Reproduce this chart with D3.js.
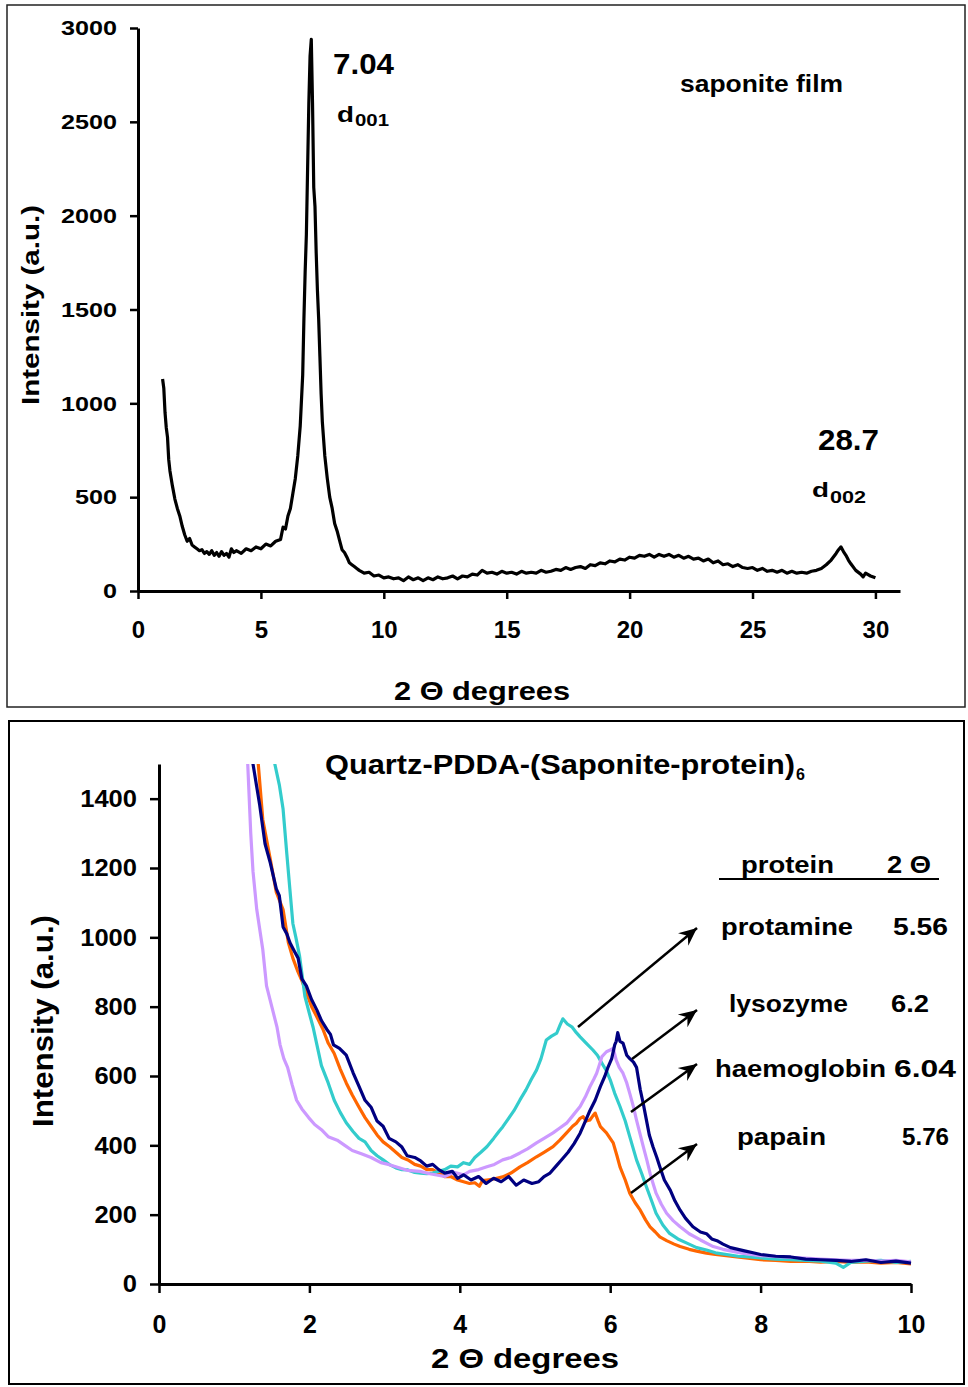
<!DOCTYPE html>
<html>
<head>
<meta charset="utf-8">
<script src="https://cdn.jsdelivr.net/npm/d3@7"></script>
<style>
  body { margin: 0; background: #fff; }
  svg text { font-family: "Liberation Sans", Arial, sans-serif; font-weight: bold; fill: #000; }
</style>
</head>
<body>
<svg id="chart" width="968" height="1387"></svg>
<script>
// ---------- data: saponite film (top panel) ----------
var saponiteFilm = [
  [1.00,1130],[1.05,1080],[1.10,950],[1.15,870],[1.20,820],[1.25,700],[1.30,640],[1.40,560],[1.50,490],
  [1.60,440],[1.70,400],[1.80,345],[1.90,300],[2.00,265],[2.10,280],[2.20,245],[2.30,235],[2.40,225],
  [2.50,215],[2.60,220],[2.70,200],[2.80,210],[2.90,195],[3.00,215],[3.10,190],[3.20,205],[3.30,185],
  [3.40,210],[3.50,190],[3.60,200],[3.70,180],[3.80,225],[3.90,205],[4.00,215],[4.20,200],[4.40,225],
  [4.60,215],[4.80,235],[5.00,225],[5.20,250],[5.40,240],[5.60,265],[5.80,275],[5.90,340],[6.00,330],
  [6.10,400],[6.20,440],[6.30,520],[6.40,600],[6.50,720],[6.60,880],[6.70,1150],[6.75,1450],[6.80,1700],
  [6.85,1900],[6.90,2250],[6.95,2600],[7.00,2850],[7.05,2940],[7.10,2600],[7.15,2150],[7.20,2050],
  [7.25,1800],[7.30,1600],[7.35,1450],[7.40,1250],[7.45,1050],[7.50,900],[7.60,720],[7.70,600],[7.80,500],
  [7.90,440],[8.00,360],[8.10,320],[8.20,270],[8.30,220],[8.40,205],[8.50,180],[8.60,150],[8.70,140],
  [8.80,130],[8.90,120],[9.00,110],[9.20,95],[9.40,100],[9.60,80],[9.80,85],[10.0,70],[10.2,75],[10.4,65],
  [10.6,70],[10.8,55],[11.0,75],[11.2,60],[11.4,70],[11.6,55],[11.8,70],[12.0,60],[12.2,75],[12.4,65],
  [12.6,70],[12.8,80],[13.0,65],[13.2,80],[13.4,75],[13.6,90],[13.8,85],[14.0,110],[14.2,95],[14.4,100],
  [14.6,90],[14.8,105],[15.0,95],[15.2,100],[15.4,90],[15.6,105],[15.8,95],[16.0,100],[16.2,95],[16.4,110],
  [16.6,100],[16.8,105],[17.0,115],[17.2,110],[17.4,125],[17.6,115],[17.8,125],[18.0,130],[18.2,120],
  [18.4,140],[18.6,135],[18.8,150],[19.0,145],[19.2,160],[19.4,155],[19.6,170],[19.8,165],[20.0,180],
  [20.2,175],[20.4,190],[20.6,185],[20.8,195],[21.0,180],[21.2,195],[21.4,185],[21.6,195],[21.8,180],
  [22.0,190],[22.2,175],[22.4,185],[22.6,170],[22.8,175],[23.0,160],[23.2,170],[23.4,150],[23.6,160],
  [23.8,140],[24.0,145],[24.2,130],[24.4,140],[24.6,125],[24.8,120],[25.0,125],[25.2,110],[25.4,120],
  [25.6,105],[25.8,110],[26.0,100],[26.2,110],[26.4,95],[26.6,105],[26.8,95],[27.0,100],[27.2,95],
  [27.4,105],[27.6,110],[27.8,120],[28.0,140],[28.2,165],[28.4,200],[28.5,220],[28.6,235],[28.7,210],
  [28.8,190],[28.9,165],[29.0,145],[29.2,110],[29.4,90],[29.5,75],[29.6,95],[29.8,80],[30.0,70]
];

// ---------- data: multilayer films (bottom panel) ----------
var lysozyme = [
  [1.20,1560],[1.25,1500],[1.28,1460],[1.34,1380],[1.41,1270],[1.48,1215],[1.56,1140],[1.60,1120],
  [1.65,1030],[1.70,1010],[1.74,985],[1.80,960],[1.85,940],[1.90,880],[1.96,860],[2.03,820],[2.10,790],
  [2.16,760],[2.23,735],[2.28,720],[2.32,690],[2.40,680],[2.49,660],[2.58,610],[2.66,570],[2.74,530],
  [2.82,510],[2.90,470],[2.98,455],[3.06,420],[3.15,410],[3.23,395],[3.30,370],[3.40,365],[3.48,355],
  [3.56,340],[3.64,345],[3.72,330],[3.80,320],[3.90,325],[3.97,305],[4.05,315],[4.15,300],[4.25,310],
  [4.35,290],[4.45,305],[4.55,295],[4.65,310],[4.75,285],[4.85,300],[4.96,290],[5.05,295],[5.12,310],
  [5.20,320],[5.28,340],[5.36,360],[5.44,380],[5.52,405],[5.60,435],[5.67,470],[5.73,500],[5.80,530],
  [5.87,570],[5.93,600],[5.97,625],[6.02,650],[6.06,690],[6.08,700],[6.10,725],[6.13,700],[6.17,695],
  [6.22,660],[6.26,650],[6.31,640],[6.35,625],[6.40,560],[6.44,520],[6.48,475],[6.52,430],[6.57,395],
  [6.62,365],[6.66,338],[6.72,300],[6.80,270],[6.86,240],[6.93,213],[7.00,190],[7.10,165],[7.20,150],
  [7.28,145],[7.35,130],[7.42,125],[7.50,115],[7.60,105],[7.70,100],[7.80,95],[7.90,90],[8.00,85],
  [8.20,80],[8.40,78],[8.60,72],[8.80,70],[9.00,68],[9.20,65],[9.40,70],[9.60,62],[9.80,66],[10.0,60]
];
var papain = [
  [1.28,1560],[1.32,1500],[1.38,1340],[1.48,1225],[1.56,1130],[1.65,1080],[1.72,985],[1.78,940],
  [1.84,905],[1.90,875],[1.96,840],[2.03,800],[2.10,770],[2.18,735],[2.25,695],[2.33,665],[2.41,620],
  [2.49,580],[2.57,545],[2.66,510],[2.74,480],[2.82,455],[2.90,430],[2.98,410],[3.07,395],[3.15,380],
  [3.23,365],[3.31,358],[3.40,345],[3.48,340],[3.56,330],[3.64,330],[3.72,320],[3.80,310],[3.88,310],
  [3.97,300],[4.05,295],[4.13,290],[4.20,292],[4.26,282],[4.30,298],[4.36,300],[4.45,303],[4.57,309],
  [4.68,320],[4.80,338],[4.90,350],[5.02,367],[5.12,380],[5.24,396],[5.33,415],[5.42,436],[5.50,455],
  [5.55,464],[5.60,478],[5.64,483],[5.68,470],[5.73,473],[5.77,485],[5.80,493],[5.84,470],[5.87,454],
  [5.95,436],[6.04,407],[6.09,370],[6.13,338],[6.20,300],[6.26,262],[6.33,235],[6.40,213],[6.47,185],
  [6.53,165],[6.60,150],[6.66,136],[6.75,125],[6.85,115],[6.93,108],[7.05,100],[7.15,95],[7.28,89],
  [7.40,85],[7.60,80],[7.80,75],[8.00,70],[8.20,68],[8.40,65],[8.60,66],[8.80,63],[9.00,65],[9.20,62],
  [9.40,64],[9.60,60],[9.80,62],[10.0,58]
];
var protamine = [
  [1.50,1560],[1.54,1500],[1.60,1440],[1.65,1370],[1.70,1240],[1.74,1140],[1.78,1040],[1.82,1000],
  [1.87,945],[1.94,830],[2.00,780],[2.05,740],[2.10,690],[2.16,630],[2.25,580],[2.33,530],[2.41,495],
  [2.49,465],[2.58,440],[2.66,420],[2.74,410],[2.82,385],[2.90,370],[2.98,358],[3.06,345],[3.15,335],
  [3.23,330],[3.31,329],[3.40,322],[3.48,320],[3.56,318],[3.64,320],[3.72,325],[3.80,330],[3.88,340],
  [3.97,338],[4.05,350],[4.13,345],[4.20,365],[4.28,380],[4.36,396],[4.45,420],[4.52,440],[4.57,453],
  [4.64,475],[4.72,500],[4.80,531],[4.88,560],[4.95,590],[5.02,617],[5.08,650],[5.15,704],[5.22,715],
  [5.29,724],[5.33,745],[5.37,765],[5.43,750],[5.49,742],[5.55,725],[5.60,713],[5.68,695],[5.77,675],
  [5.83,660],[5.89,637],[5.95,615],[6.00,589],[6.06,550],[6.13,512],[6.20,470],[6.26,425],[6.35,358],
  [6.42,318],[6.48,281],[6.55,240],[6.61,204],[6.70,170],[6.79,146],[6.90,130],[7.02,118],[7.15,105],
  [7.28,98],[7.40,90],[7.55,85],[7.70,80],[7.85,78],[8.00,75],[8.20,72],[8.40,70],[8.60,68],[8.80,66],
  [9.00,60],[9.10,48],[9.20,62],[9.40,66],[9.60,68],[9.80,62],[10.0,65]
];
var haemoglobin = [
  [1.15,1560],[1.18,1500],[1.22,1300],[1.25,1190],[1.30,1080],[1.38,965],[1.43,860],[1.50,800],
  [1.57,740],[1.61,690],[1.66,650],[1.71,625],[1.77,575],[1.83,530],[1.90,505],[1.99,480],[2.07,460],
  [2.16,445],[2.25,425],[2.37,415],[2.47,400],[2.57,385],[2.70,375],[2.82,365],[2.95,350],[3.05,345],
  [3.15,338],[3.30,328],[3.47,325],[3.60,318],[3.80,310],[3.92,322],[4.05,315],[4.13,325],[4.25,330],
  [4.36,338],[4.46,345],[4.57,358],[4.68,365],[4.80,378],[4.90,390],[5.02,407],[5.12,420],[5.24,436],
  [5.33,450],[5.42,464],[5.50,485],[5.60,512],[5.67,540],[5.73,569],[5.78,590],[5.82,608],[5.86,635],
  [5.89,656],[5.95,670],[6.00,675],[6.04,680],[6.08,646],[6.12,625],[6.17,608],[6.22,580],[6.26,550],
  [6.31,510],[6.35,473],[6.40,430],[6.44,396],[6.49,355],[6.53,319],[6.57,290],[6.61,262],[6.68,230],
  [6.75,204],[6.84,182],[6.93,165],[7.05,145],[7.20,127],[7.37,108],[7.50,100],[7.75,89],[8.00,82],
  [8.30,78],[8.58,75],[8.80,72],[9.00,70],[9.20,68],[9.40,69],[9.60,66],[9.80,68],[10.0,64]
];

// table of proteins and their d001 peak positions
var proteinNames = ["protamine", "lysozyme", "haemoglobin", "papain"];
var proteinPeaks = ["5.56", "6.2", "6.04", "5.76"];

// tick values
var topXTicks = [0, 5, 10, 15, 20, 25, 30];
var topYTicks = [0, 500, 1000, 1500, 2000, 2500, 3000];
var botXTicks = [0, 2, 4, 6, 8, 10];
var botYTicks = [0, 200, 400, 600, 800, 1000, 1200, 1400];

var svg = d3.select("#chart");
var fmt = d3.format("d");

// helper for bold labels, optionally forced to a measured width
function addText(g, txt, x, y, size, len, anchor) {
  var t = g.append("text")
    .attr("x", x).attr("y", y)
    .attr("font-size", size)
    .attr("text-anchor", anchor || "start")
    .text(txt);
  if (len) t.attr("textLength", len).attr("lengthAdjust", "spacingAndGlyphs");
  return t;
}

// style an axis group the way the original plot looks
function styleAxis(g, fontSize, digitWidth) {
  g.attr("font-size", null).attr("font-family", null);
  g.select(".domain").attr("stroke", "#000").attr("stroke-width", 3);
  g.selectAll(".tick line").attr("stroke", "#000").attr("stroke-width", 2.5);
  g.selectAll(".tick text")
    .attr("font-size", fontSize)
    .attr("fill", "#000")
    .each(function(d) {
      if (digitWidth) {
        d3.select(this).attr("textLength", fmt(d).length * digitWidth).attr("lengthAdjust", "spacingAndGlyphs");
      }
    });
}

// ---------- frames ----------
svg.append("rect").attr("x", 7).attr("y", 5).attr("width", 958).attr("height", 702)
  .attr("fill", "none").attr("stroke", "#222").attr("stroke-width", 1.5);
svg.append("rect").attr("x", 9).attr("y", 721).attr("width", 955).attr("height", 663)
  .attr("fill", "none").attr("stroke", "#000").attr("stroke-width", 2);

// ---------- top panel ----------
var x1 = d3.scaleLinear().domain([0, 31]).range([138, 900]);
var y1 = d3.scaleLinear().domain([0, 3000]).range([591, 28]);

var topPanel = svg.append("g");

var line1 = d3.line().x(function(d) { return x1(d[0]); }).y(function(d) { return y1(d[1]); });
topPanel.append("path")
  .datum(saponiteFilm)
  .attr("d", line1)
  .attr("fill", "none")
  .attr("stroke", "#000")
  .attr("stroke-width", 3.2)
  .attr("stroke-linejoin", "round");

var gx1 = topPanel.append("g")
  .attr("transform", "translate(0," + y1(0) + ")")
  .call(d3.axisBottom(x1).tickValues(topXTicks).tickFormat(fmt).tickSize(8).tickSizeOuter(0).tickPadding(22));
styleAxis(gx1, 24, 0);

var gy1 = topPanel.append("g")
  .attr("transform", "translate(" + x1(0) + ",0)")
  .call(d3.axisLeft(y1).tickValues(topYTicks).tickFormat(fmt).tickSize(8).tickSizeOuter(0).tickPadding(13));
styleAxis(gy1, 21, 14);

// annotations
addText(topPanel, "7.04", 333, 74, 29, 61);
addText(topPanel, "d", 337, 122, 22, 17);
addText(topPanel, "001", 355, 126, 16, 34);
addText(topPanel, "saponite film", 680, 92, 24, 163);
addText(topPanel, "28.7", 818, 450, 30, 61);
addText(topPanel, "d", 812, 497, 21, 17);
addText(topPanel, "002", 830, 503, 17, 36);

addText(topPanel, "2 \u0398 degrees", 482, 700, 26, 176, "middle");
addText(topPanel, "Intensity (a.u.)", 0, 0, 23, 200, "middle")
  .attr("transform", "translate(39,305) rotate(-90)");

// ---------- bottom panel ----------
var x2 = d3.scaleLinear().domain([0, 10]).range([159, 911]);
var y2 = d3.scaleLinear().domain([0, 1500]).range([1284, 764]);

var botPanel = svg.append("g");

svg.append("clipPath").attr("id", "plotClip")
  .append("rect").attr("x", x2(0)).attr("y", y2(1500))
  .attr("width", x2(10) - x2(0) + 4).attr("height", y2(0) - y2(1500));

var line2 = d3.line().x(function(d) { return x2(d[0]); }).y(function(d) { return y2(d[1]); });

var series = [
  { data: papain, color: "#FF6600" },
  { data: protamine, color: "#33CCCC" },
  { data: haemoglobin, color: "#CC99FF" },
  { data: lysozyme, color: "#000080" }
];

botPanel.append("g").attr("clip-path", "url(#plotClip)")
  .selectAll("path")
  .data(series)
  .join("path")
  .attr("d", function(d) { return line2(d.data); })
  .attr("fill", "none")
  .attr("stroke", function(d) { return d.color; })
  .attr("stroke-width", 3.2)
  .attr("stroke-linejoin", "round");

var gx2 = botPanel.append("g")
  .attr("transform", "translate(0," + y2(0) + ")")
  .call(d3.axisBottom(x2).tickValues(botXTicks).tickFormat(fmt).tickSize(9).tickSizeOuter(0).tickPadding(22));
styleAxis(gx2, 25, 0);

var gy2 = botPanel.append("g")
  .attr("transform", "translate(" + x2(0) + ",0)")
  .call(d3.axisLeft(y2).tickValues(botYTicks).tickFormat(fmt).tickSize(9).tickSizeOuter(0).tickPadding(13));
styleAxis(gy2, 24, 14.2);

// title
addText(botPanel, "Quartz-PDDA-(Saponite-protein)", 325, 774, 28, 470);
addText(botPanel, "6", 796, 780, 16);

// axis titles
addText(botPanel, "2 \u0398 degrees", 525, 1368, 28, 188, "middle");
addText(botPanel, "Intensity (a.u.)", 0, 0, 30, 212, "middle")
  .attr("transform", "translate(53,1021) rotate(-90)");

// protein table
addText(botPanel, "protein", 741, 873, 24, 93);
addText(botPanel, "2 \u0398", 887, 873, 24, 44);
botPanel.append("line").attr("x1", 719).attr("x2", 939).attr("y1", 879).attr("y2", 879)
  .attr("stroke", "#000").attr("stroke-width", 2);

var rowY = [935, 1012, 1077, 1145];
var nameX = [721, 729, 715, 737];
var nameLen = [132, 119, 171, 89];
var peakX = [893, 891, 894, 902];
var peakLen = [55, 38, 62, 47];
proteinNames.forEach(function(n, i) {
  addText(botPanel, n, nameX[i], rowY[i], 24, nameLen[i]);
  addText(botPanel, proteinPeaks[i], peakX[i], rowY[i], 24, peakLen[i]);
});

// arrows from curves to the table rows
svg.append("defs").append("marker")
  .attr("id", "arrowHead")
  .attr("viewBox", "-18 -9 20 18")
  .attr("refX", 0).attr("refY", 0)
  .attr("markerWidth", 20).attr("markerHeight", 18)
  .attr("markerUnits", "userSpaceOnUse")
  .attr("orient", "auto")
  .append("path")
  .attr("d", "M0,0 L-18,-8 L-12,0 L-18,8 Z")
  .attr("fill", "#000");

var arrows = [
  [[578, 1027], [697, 928]],
  [[632, 1059], [697, 1010]],
  [[631, 1112], [697, 1064]],
  [[631, 1193], [697, 1144]]
];
botPanel.selectAll("line.arrow")
  .data(arrows)
  .join("line")
  .attr("class", "arrow")
  .attr("x1", function(d) { return d[0][0]; })
  .attr("y1", function(d) { return d[0][1]; })
  .attr("x2", function(d) { return d[1][0]; })
  .attr("y2", function(d) { return d[1][1]; })
  .attr("stroke", "#000")
  .attr("stroke-width", 2.5)
  .attr("marker-end", "url(#arrowHead)");
</script>
</body>
</html>
